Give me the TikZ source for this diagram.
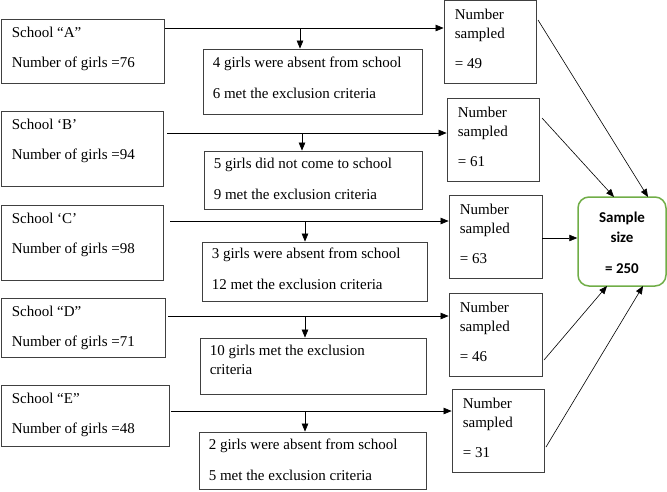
\documentclass[tikz,border=0pt]{standalone}
\usepackage{fontspec}
\setmainfont{Liberation Serif}
\newfontfamily\calfont{Carlito}
\usetikzlibrary{arrows.meta,fit,calc}
\definecolor{boxgreen}{HTML}{70AD47}
\tikzset{
  bx/.style={draw=black!75,line width=0.8pt,inner sep=0pt},
  gbx/.style={draw=boxgreen,line width=1.5pt,inner sep=0pt,rounded corners=11pt},
  txt/.style={inner sep=0pt,anchor=base west,font=\fontsize{15}{19}\selectfont},
  arr/.style={line width=0.6pt,-{Triangle[length=8pt,width=6.5pt]}},
}
\begin{document}
\begin{tikzpicture}[x=1pt,y=-1pt]
\useasboundingbox (0,0) rectangle (667,491);
% school boxes
\node[bx,fit={(1,19) (164,83)}] (sA) {};
\node[bx,fit={(1,111) (163,186)}] (sB) {};
\node[bx,fit={(1,205) (163,280)}] (sC) {};
\node[bx,fit={(1,298) (165,357)}] (sD) {};
\node[bx,fit={(1,385) (169,446)}] (sE) {};
% middle boxes
\node[bx,fit={(203,49) (422,114)}] (mA) {};
\node[bx,fit={(204,151) (422,209)}] (mB) {};
\node[bx,fit={(202,242) (427,301)}] (mC) {};
\node[bx,fit={(200,338) (426,394)}] (mD) {};
\node[bx,fit={(199,432) (426,489)}] (mE) {};
% sampled boxes
\node[bx,fit={(444,0.6) (536,83)}] (nA) {};
\node[bx,fit={(447,98) (539,181)}] (nB) {};
\node[bx,fit={(449,195) (542,278)}] (nC) {};
\node[bx,fit={(449,293) (542,376)}] (nD) {};
\node[bx,fit={(452,389) (544,472)}] (nE) {};
% sample size
\node[gbx,fit={(578,197) (666,286)}] (ss) {};
% texts
\node[txt] (tsA) at ($(sA.north west)+(11,19)$) {\begin{tabular}[t]{@{}l@{}}School “A”\\[11pt]Number of girls =76\end{tabular}};
\node[txt] (tsB) at ($(sB.north west)+(11,19)$) {\begin{tabular}[t]{@{}l@{}}School ‘B’\\[11pt]Number of girls =94\end{tabular}};
\node[txt] (tsC) at ($(sC.north west)+(11,19)$) {\begin{tabular}[t]{@{}l@{}}School ‘C’\\[11pt]Number of girls =98\end{tabular}};
\node[txt] (tsD) at ($(sD.north west)+(11,19)$) {\begin{tabular}[t]{@{}l@{}}School “D”\\[11pt]Number of girls =71\end{tabular}};
\node[txt] (tsE) at ($(sE.north west)+(11,19)$) {\begin{tabular}[t]{@{}l@{}}School “E”\\[11pt]Number of girls =48\end{tabular}};
\node[txt] (tmA) at ($(mA.north west)+(10,19)$) {\begin{tabular}[t]{@{}l@{}}4 girls were absent from school\\[12pt]6 met the exclusion criteria\end{tabular}};
\node[txt] (tmB) at ($(mB.north west)+(10,18)$) {\begin{tabular}[t]{@{}l@{}}5 girls did not come to school\\[12pt]9 met the exclusion criteria\end{tabular}};
\node[txt] (tmC) at ($(mC.north west)+(10,17)$) {\begin{tabular}[t]{@{}l@{}}3 girls were absent from school\\[12pt]12 met the exclusion criteria\end{tabular}};
\node[txt] (tmD) at ($(mD.north west)+(10,18)$) {\begin{tabular}[t]{@{}l@{}}10 girls met the exclusion\\criteria\end{tabular}};
\node[txt] (tmE) at ($(mE.north west)+(10,18)$) {\begin{tabular}[t]{@{}l@{}}2 girls were absent from school\\[12pt]5 met the exclusion criteria\end{tabular}};
\node[txt] (tnA) at ($(nA.north west)+(11,19)$) {\begin{tabular}[t]{@{}l@{}}Number\\sampled\\[11pt]= 49\end{tabular}};
\node[txt] (tnB) at ($(nB.north west)+(11,20)$) {\begin{tabular}[t]{@{}l@{}}Number\\sampled\\[11pt]= 61\end{tabular}};
\node[txt] (tnC) at ($(nC.north west)+(11,20)$) {\begin{tabular}[t]{@{}l@{}}Number\\sampled\\[11pt]= 63\end{tabular}};
\node[txt] (tnD) at ($(nD.north west)+(11,20)$) {\begin{tabular}[t]{@{}l@{}}Number\\sampled\\[11pt]= 46\end{tabular}};
\node[txt] (tnE) at ($(nE.north west)+(11,20)$) {\begin{tabular}[t]{@{}l@{}}Number\\sampled\\[11pt]= 31\end{tabular}};
\node[inner sep=0pt,anchor=base,font=\calfont\bfseries\fontsize{15}{20}\selectfont] (tss) at (622,222) {\begin{tabular}[t]{@{}c@{}}Sample\\size\\[11pt]= 250\end{tabular}};
% horizontal lines start points
\coordinate (hA) at (165,28);
\coordinate (hB) at (167,133);
\coordinate (hC) at (170,221);
\coordinate (hD) at (168,316);
\coordinate (hE) at (171,411);
\draw[arr] (hA) -- (hA -| nA.west);
\draw[arr] (hB) -- (hB -| nB.west);
\draw[arr] (hC) -- (hC -| nC.west);
\draw[arr] (hD) -- (hD -| nD.west);
\draw[arr] (hE) -- (hE -| nE.west);
% down arrows
\coordinate (dA) at (300,29);
\coordinate (dB) at (302,134);
\coordinate (dC) at (305,222);
\coordinate (dD) at (305,317);
\coordinate (dE) at (305,412);
\draw[arr] (dA) -- (dA |- mA.north);
\draw[arr] (dB) -- (dB |- mB.north);
\draw[arr] (dC) -- (dC |- mC.north);
\draw[arr] (dD) -- (dD |- mD.north);
\draw[arr] (dE) -- (dE |- mE.north);
% to sample size
\coordinate (oA) at (538,20);
\coordinate (oB) at (542,118);
\coordinate (oC) at (542,238);
\coordinate (oD) at (544,360);
\coordinate (oE) at (546,447);
\coordinate (iA) at (648,197);
\coordinate (iB) at (614,197);
\coordinate (iD) at (607,286);
\coordinate (iE) at (643,286);
\draw[arr] (oA) -- (iA);
\draw[arr] (oB) -- (iB);
\draw[arr] (oC) -- (oC -| ss.west);
\draw[arr] (oD) -- (iD);
\draw[arr] (oE) -- (iE);
\end{tikzpicture}
\end{document}
